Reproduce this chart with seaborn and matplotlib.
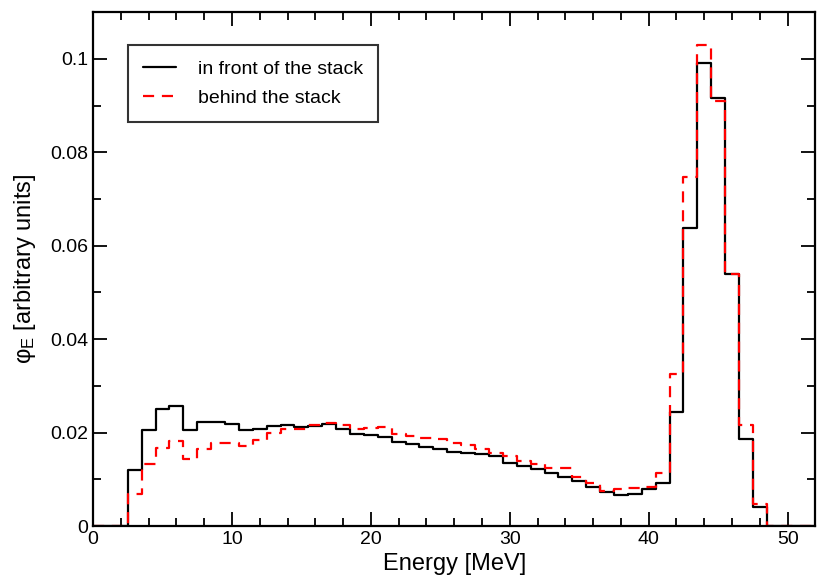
import numpy as np
import pandas as pd
import matplotlib
matplotlib.use("Agg")
import matplotlib.pyplot as plt
import seaborn as sns
from matplotlib.ticker import MultipleLocator

# bin centres (MeV), 1 MeV wide bins
energy = list(range(3, 49))
front = [0.0120, 0.0205, 0.0251, 0.0257, 0.0205, 0.0222, 0.0223, 0.0219, 0.0205, 0.0207,
         0.0214, 0.0216, 0.0212, 0.0214, 0.0218, 0.0207, 0.0198, 0.0194, 0.0190, 0.0180,
         0.0175, 0.0170, 0.0165, 0.0159, 0.0157, 0.0154, 0.0150, 0.0135, 0.0128, 0.0123,
         0.0113, 0.0105, 0.0096, 0.0084, 0.0073, 0.0066, 0.0068, 0.0080, 0.0091, 0.0244,
         0.0638, 0.0992, 0.0917, 0.0540, 0.0187, 0.0041]
behind = [0.0068, 0.0132, 0.0166, 0.0182, 0.0143, 0.0165, 0.0177, 0.0177, 0.0172, 0.0184,
          0.0200, 0.0207, 0.0208, 0.0216, 0.0221, 0.0216, 0.0207, 0.0209, 0.0211, 0.0198,
          0.0192, 0.0189, 0.0187, 0.0178, 0.0173, 0.0164, 0.0157, 0.0150, 0.0140, 0.0132,
          0.0125, 0.0125, 0.0105, 0.0091, 0.0075, 0.0080, 0.0081, 0.0084, 0.0114, 0.0325,
          0.0748, 0.1030, 0.0909, 0.0540, 0.0216, 0.0048]
labels = ["in front of the stack", "behind the stack"]
x_range = (0, 52)

sns.set_style("ticks")
plt.rcParams["font.family"] = ["Liberation Sans", "DejaVu Sans"]
plt.rcParams["mathtext.fontset"] = "custom"
plt.rcParams["mathtext.rm"] = "Liberation Sans"
plt.rcParams["mathtext.it"] = "Liberation Sans:italic"
for k in ["text.color", "axes.labelcolor", "xtick.color", "ytick.color", "axes.edgecolor"]:
    plt.rcParams[k] = "black"


def step_frame(vals):
    lefts = [x_range[0]] + [e - 0.5 for e in energy] + [energy[-1] + 0.5, x_range[1]]
    ys = [0.0] + list(vals) + [0.0, 0.0]
    return pd.DataFrame({"E": lefts, "phi": ys})

fig = plt.figure(figsize=(8.19, 5.80), dpi=100)
ax = fig.add_axes([0.1136, 0.0931, 0.8820, 0.8859])

sns.lineplot(data=step_frame(front), x="E", y="phi", ax=ax, color="black",
             lw=1.6, drawstyle="steps-post", estimator=None, sort=False, label=labels[0])
sns.lineplot(data=step_frame(behind), x="E", y="phi", ax=ax, color="#ff0000",
             lw=1.6, drawstyle="steps-post", estimator=None, sort=False, label=labels[1],
             dashes=False, linestyle=(0, (5, 3.5)))

ax.set_xlim(*x_range)
ax.set_ylim(0, 0.11)
ax.xaxis.set_major_locator(MultipleLocator(10))
ax.xaxis.set_minor_locator(MultipleLocator(2))
ax.yaxis.set_major_locator(MultipleLocator(0.02))
ax.yaxis.set_minor_locator(MultipleLocator(0.01))
ax.set_yticks([0, 0.02, 0.04, 0.06, 0.08, 0.1])
ax.set_yticklabels(["0", "0.02", "0.04", "0.06", "0.08", "0.1"])
ax.tick_params(which="both", direction="in", top=True, right=True, labelsize=14,
               width=1.3, color="black", labelcolor="black")
ax.tick_params(which="major", length=10)
ax.tick_params(which="minor", length=6)
for s in ax.spines.values():
    s.set_linewidth(1.6)
    s.set_color("black")

ax.set_xlabel("Energy [MeV]", fontsize=17, labelpad=4, color="black")
ax.set_ylabel("φ$_\\mathrm{E}$ [arbitrary units]", fontsize=17, labelpad=9, color="black")

leg = ax.legend(loc="upper left", bbox_to_anchor=(0.048, 0.936), fontsize=14,
                frameon=True, fancybox=False, handlelength=1.7, borderpad=0.8,
                labelspacing=0.55, handletextpad=1.1, borderaxespad=0)
leg.get_frame().set_edgecolor("black")
leg.get_frame().set_linewidth(1.5)
for t in leg.get_texts():
    t.set_color("black")

fig.savefig("out.png", dpi=100)
